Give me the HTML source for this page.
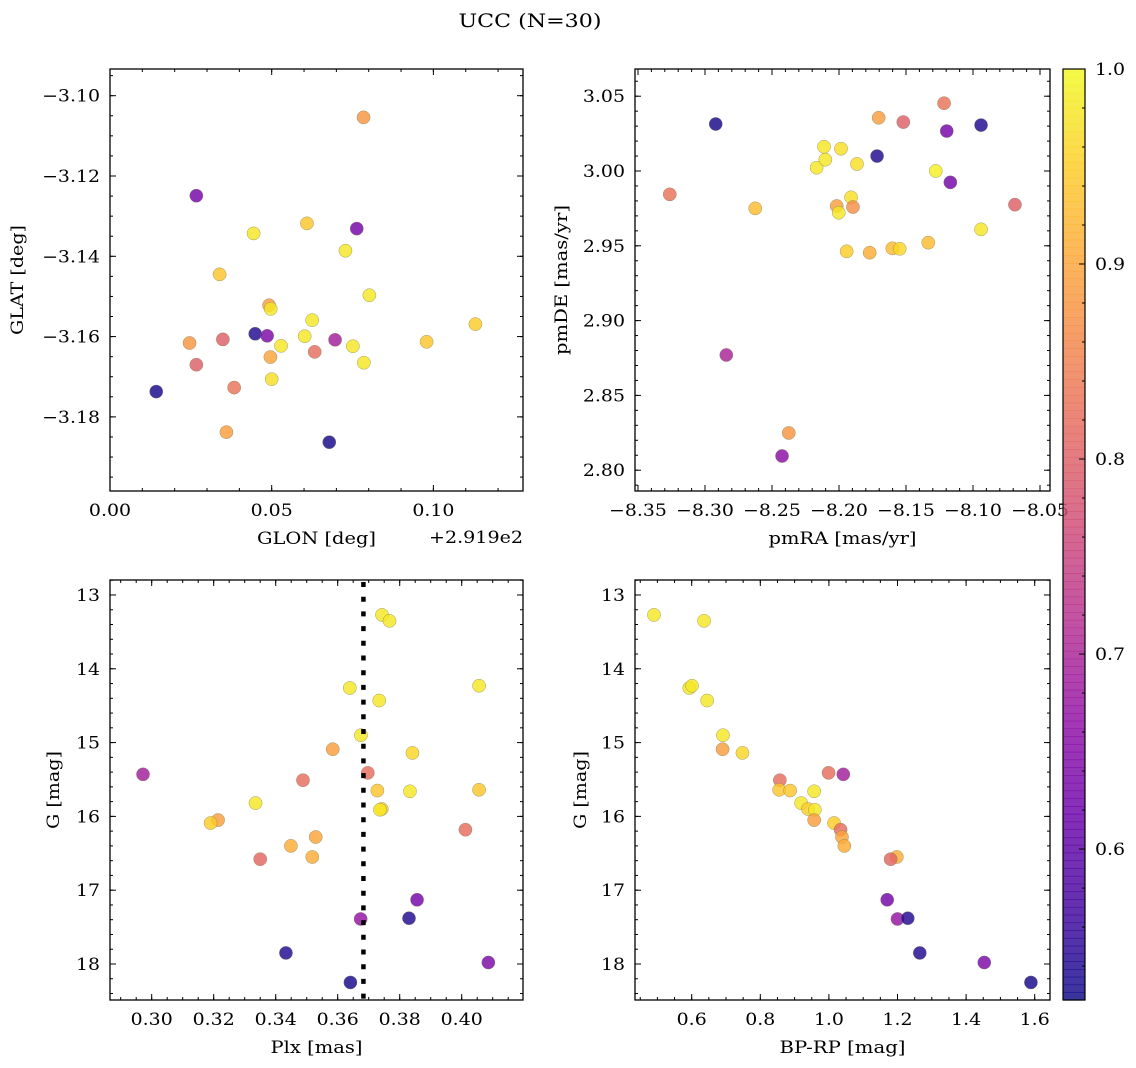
<!DOCTYPE html>
<html>
<head>
<meta charset="utf-8">
<style>
  html,body{margin:0;padding:0;background:#fff;}
  svg{display:block;font-family:"DejaVu Serif","Liberation Serif",serif;}
</style>
</head>
<body>
<svg id="fig" width="1136" height="1068" viewBox="0 0 1136 1068" xmlns="http://www.w3.org/2000/svg">
  <text x="530" y="27" text-anchor="middle" font-size="19" textLength="143" lengthAdjust="spacingAndGlyphs">UCC (N=30)</text>
</svg>
<script>
// ---- Panel 1: GLON vs GLAT ----
const glon = [0.0784,0.0267,0.0444,0.0609,0.0763,0.0728,0.0339,0.0802,0.0492,0.0497,0.0625,0.1130,0.0449,0.0486,0.0602,0.0349,0.0696,0.0246,0.0979,0.0529,0.0751,0.0633,0.0496,0.0267,0.0785,0.0500,0.0384,0.0143,0.0360,0.0678];
const glat = [-3.1054,-3.1249,-3.1343,-3.1318,-3.1331,-3.1386,-3.1445,-3.1497,-3.1522,-3.1531,-3.1559,-3.1569,-3.1593,-3.1598,-3.1599,-3.1607,-3.1608,-3.1616,-3.1613,-3.1623,-3.1624,-3.1638,-3.1651,-3.1670,-3.1665,-3.1706,-3.1727,-3.1737,-3.1838,-3.1863];
const probPos = [0.88,0.63,0.98,0.94,0.63,0.98,0.94,0.98,0.89,0.98,0.98,0.95,0.54,0.64,0.98,0.80,0.69,0.88,0.94,0.98,0.98,0.82,0.90,0.80,0.98,0.97,0.83,0.53,0.89,0.53];
// ---- Panel 2: pmRA vs pmDE ----
const pmra = [-8.292,-8.3263,-8.2841,-8.2625,-8.2375,-8.2425,-8.2167,-8.2112,-8.2102,-8.1985,-8.2017,-8.2002,-8.191,-8.1896,-8.1866,-8.1943,-8.1771,-8.1716,-8.1704,-8.1602,-8.1547,-8.152,-8.1334,-8.1278,-8.1216,-8.1196,-8.1169,-8.094,-8.094,-8.0687];
const pmde = [3.0314,2.9844,2.877,2.975,2.8249,2.8095,3.0022,3.0162,3.0076,3.0149,2.9766,2.9721,2.9824,2.9759,3.0047,2.9463,2.9454,3.010,3.0356,2.9483,2.948,3.0327,2.9521,3.000,3.0453,3.0267,2.9924,3.0307,2.961,2.9775];
const probPm = [0.53,0.83,0.70,0.93,0.88,0.66,0.98,0.98,0.98,0.97,0.89,0.98,0.97,0.87,0.97,0.95,0.91,0.54,0.89,0.93,0.96,0.80,0.93,0.99,0.83,0.63,0.63,0.54,0.98,0.80];
// ---- Panels 3 & 4: photometry / parallax ----
const gmag = [13.27,13.35,14.26,14.23,14.43,14.90,15.09,15.14,15.41,15.43,15.51,15.64,15.65,15.66,15.82,15.90,15.91,16.05,16.09,16.18,16.28,16.40,16.55,16.58,17.13,17.39,17.38,17.85,17.98,18.25];
const bprp = [0.490,0.636,0.593,0.601,0.645,0.691,0.690,0.748,0.999,1.042,0.857,0.855,0.887,0.957,0.919,0.939,0.959,0.957,1.015,1.034,1.038,1.045,1.198,1.180,1.170,1.200,1.230,1.265,1.453,1.589];
const plx = [0.3743,0.3767,0.3639,0.4056,0.3734,0.3675,0.3584,0.3841,0.3697,0.2972,0.3488,0.4056,0.3728,0.3833,0.3335,0.3742,0.3736,0.3214,0.3190,0.4012,0.3529,0.3449,0.3518,0.3350,0.3856,0.3674,0.3830,0.3433,0.4086,0.3641];
const probPh = [0.98,0.98,0.98,0.98,0.98,0.98,0.89,0.96,0.82,0.69,0.82,0.94,0.94,0.98,0.98,0.95,0.98,0.89,0.95,0.82,0.90,0.91,0.91,0.81,0.63,0.67,0.54,0.54,0.64,0.53];
const plxMedian = [0.3683];
// ---- Tick labels ----
const p1XTicks = [0, 0.05, 0.10];
const p1XLabels = ["0.00","0.05","0.10"];
const p1YTicks = [-3.18,-3.16,-3.14,-3.12,-3.10];
const p1YLabels = ["\u22123.18","\u22123.16","\u22123.14","\u22123.12","\u22123.10"];
const p2XTicks = [-8.35,-8.30,-8.25,-8.20,-8.15,-8.10,-8.05];
const p2XLabels = ["\u22128.35","\u22128.30","\u22128.25","\u22128.20","\u22128.15","\u22128.10","\u22128.05"];
const p2YTicks = [2.80,2.85,2.90,2.95,3.00,3.05];
const p2YLabels = ["2.80","2.85","2.90","2.95","3.00","3.05"];
const p3XTicks = [0.30,0.32,0.34,0.36,0.38,0.40];
const p3XLabels = ["0.30","0.32","0.34","0.36","0.38","0.40"];
const gTicks = [13,14,15,16,17,18];
const gLabels = ["13","14","15","16","17","18"];
const p4XTicks = [0.6,0.8,1.0,1.2,1.4,1.6];
const p4XLabels = ["0.6","0.8","1.0","1.2","1.4","1.6"];
const cbTicks = [0.6,0.7,0.8,0.9,1.0];
const cbLabels = ["0.6","0.7","0.8","0.9","1.0"];

const VMIN = 0.5226, VMAX = 1.0;
const FS = 17;
const WFS = 18.9;
const NS = "http://www.w3.org/2000/svg";
const fig = document.getElementById('fig');

const plasma = [[13,8,135],[65,4,157],[106,0,168],[143,13,164],[177,42,144],[204,71,120],[225,100,98],[242,132,75],[252,166,54],[252,206,37],[240,249,33]];
function cmap(v){
  let t = (v - VMIN) / (VMAX - VMIN);
  t = Math.max(0, Math.min(1, t));
  const f = t * 10, i = Math.min(9, Math.floor(f)), r = f - i;
  const a = plasma[i], b = plasma[i+1];
  return 'rgb(' + [0,1,2].map(k => Math.round(a[k] + (b[k]-a[k])*r)).join(',') + ')';
}
function numWidth(s){
  let w = 0;
  for (const ch of s){ w += (ch === '.') ? 0.318 : (ch === '\u2212') ? 0.838 : 0.636; }
  return w * WFS;
}
function el(tag, attrs, parent){
  const e = document.createElementNS(NS, tag);
  for (const k in attrs) e.setAttribute(k, attrs[k]);
  (parent || fig).appendChild(e);
  return e;
}
function linScale(d0, d1, r0, r1){ return v => r0 + (v - d0) / (d1 - d0) * (r1 - r0); }

function panel(cfg){
  const g = el('g', {});
  
  
  const sx = linScale(cfg.xd[0], cfg.xd[1], cfg.x0, cfg.x1);
  const sy = linScale(cfg.yd[0], cfg.yd[1], cfg.y1, cfg.y0);
  const pts = el('g', {}, g);
  
  
  for (let i = 0; i < cfg.xs.length; i++){
    const c = el('circle', {cx: sx(cfg.xs[i]).toFixed(2), cy: sy(cfg.ys[i]).toFixed(2), r: 6.6,
      fill: cmap(cfg.ps[i]), 'fill-opacity': 0.82, stroke: '#7a7a5a', 'stroke-width': 0.5, 'stroke-opacity': 0.7}, pts);
    
    
  }
  if (cfg.vline){
    const vx = sx(cfg.vline[0]);
    const ln = el('line', {x1: vx, x2: vx, y1: cfg.y0 + 2, y2: cfg.y1, stroke: '#000', 'stroke-width': 4.5, 'stroke-dasharray': '5 9.7'}, g);
    
    
  }
  const fr = el('rect', {x: cfg.x0, y: cfg.y0, width: cfg.x1 - cfg.x0, height: cfg.y1 - cfg.y0, fill: 'none', stroke: '#000', 'stroke-width': 1.3}, g);
  
  
  const tg = el('g', {stroke: '#000', 'stroke-width': 1}, g);
  function ticksX(vals, len){
    vals.forEach(v => { const x = sx(v); if (x < cfg.x0 - 0.5 || x > cfg.x1 + 0.5) return;
      el('line', {x1: x, x2: x, y1: cfg.y1, y2: cfg.y1 - len}, tg);
      el('line', {x1: x, x2: x, y1: cfg.y0, y2: cfg.y0 + len}, tg); });
  }
  function ticksY(vals, len){
    vals.forEach(v => { const y = sy(v); if (y < cfg.y0 - 0.5 || y > cfg.y1 + 0.5) return;
      el('line', {x1: cfg.x0, x2: cfg.x0 + len, y1: y, y2: y}, tg);
      el('line', {x1: cfg.x1, x2: cfg.x1 - len, y1: y, y2: y}, tg); });
  }
  function minors(d, step){
    const lo = Math.min(d[0], d[1]), hi = Math.max(d[0], d[1]); const out = [];
    for (let k = Math.ceil(lo / step - 1e-9); k <= Math.floor(hi / step + 1e-9); k++) out.push(k * step);
    return out;
  }
  ticksX(cfg.xt, 6); ticksY(cfg.yt, 6);
  ticksX(minors(cfg.xd, cfg.xm), 3); ticksY(minors(cfg.yd, cfg.ym), 3);
  cfg.xt.forEach((v, i) => {
    const t = el('text', {x: sx(v), y: cfg.y1 + 25, 'text-anchor': 'middle', 'font-size': FS,
      textLength: numWidth(cfg.xl[i]).toFixed(1), lengthAdjust: 'spacingAndGlyphs'}, g);
    t.textContent = cfg.xl[i];
    
    
  });
  cfg.yt.forEach((v, i) => {
    const t = el('text', {x: cfg.x0 - 10, y: sy(v) + 6, 'text-anchor': 'end', 'font-size': FS,
      textLength: numWidth(cfg.yl[i]).toFixed(1), lengthAdjust: 'spacingAndGlyphs'}, g);
    t.textContent = cfg.yl[i];
    
    
  });
  const xt = el('text', {x: (cfg.x0 + cfg.x1) / 2, y: cfg.y1 + 53, 'text-anchor': 'middle', 'font-size': FS,
    textLength: cfg.xtw, lengthAdjust: 'spacingAndGlyphs'}, g);
  xt.textContent = cfg.xtitle;
  
  
  const yx = cfg.ytitleX, yy = (cfg.y0 + cfg.y1) / 2;
  const yt = el('text', {x: yx, y: yy, 'text-anchor': 'middle', 'font-size': FS, transform: 'rotate(-90 ' + yx + ' ' + yy + ')',
    textLength: cfg.ytw, lengthAdjust: 'spacingAndGlyphs'}, g);
  yt.textContent = cfg.ytitle;
  
  
  return g;
}

panel({name: 'glon-glat-panel', x0: 110, x1: 523, y0: 69, y1: 491,
  xd: [0, 0.12771], yd: [-3.19846, -3.09335], xs: glon, ys: glat, ps: probPos,
  xt: p1XTicks, xl: p1XLabels, yt: p1YTicks, yl: p1YLabels, xm: 0.01, ym: 0.005,
  xtitle: 'GLON [deg]', xtw: 119, ytitle: 'GLAT [deg]', ytw: 110, ytitleX: 23});
const off = el('text', {x: 523, y: 543, 'text-anchor': 'end', 'font-size': FS, textLength: 94, lengthAdjust: 'spacingAndGlyphs'});
off.textContent = '+2.919e2';



panel({name: 'pm-panel', x0: 635, x1: 1050, y0: 69, y1: 491,
  xd: [-8.35224, -8.04254], yd: [2.78610, 3.06818], xs: pmra, ys: pmde, ps: probPm,
  xt: p2XTicks, xl: p2XLabels, yt: p2YTicks, yl: p2YLabels, xm: 0.01, ym: 0.01,
  xtitle: 'pmRA [mas/yr]', xtw: 148, ytitle: 'pmDE [mas/yr]', ytw: 150, ytitleX: 567});

panel({name: 'plx-g-panel', x0: 110, x1: 523, y0: 580, y1: 1000,
  xd: [0.28655, 0.41977], yd: [18.488, 12.797], xs: plx, ys: gmag, ps: probPh,
  xt: p3XTicks, xl: p3XLabels, yt: gTicks, yl: gLabels, xm: 0.005, ym: 0.2,
  xtitle: 'Plx [mas]', xtw: 92, ytitle: 'G [mag]', ytw: 78, ytitleX: 59, vline: plxMedian});

panel({name: 'cmd-panel', x0: 635, x1: 1050, y0: 580, y1: 1000,
  xd: [0.4347, 1.6446], yd: [18.488, 12.797], xs: bprp, ys: gmag, ps: probPh,
  xt: p4XTicks, xl: p4XLabels, yt: gTicks, yl: gLabels, xm: 0.05, ym: 0.2,
  xtitle: 'BP-RP [mag]', xtw: 126, ytitle: 'G [mag]', ytw: 78, ytitleX: 586});

// ---- Colorbar ----
const cb = el('g', {});


const cbx0 = 1063, cbx1 = 1085, cby0 = 69, cby1 = 1000;
const cbs = linScale(VMIN, VMAX, cby1, cby0);
const nSeg = 120;
for (let i = 0; i < nSeg; i++){
  const v0 = VMIN + (VMAX - VMIN) * i / nSeg, v1 = VMIN + (VMAX - VMIN) * (i + 1) / nSeg;
  const r = el('rect', {x: cbx0, y: cbs(v1), width: cbx1 - cbx0, height: cbs(v0) - cbs(v1) + 0.6, fill: cmap((v0 + v1) / 2), 'fill-opacity': 0.82}, cb);
  
  
}
el('rect', {x: cbx0, y: cby0, width: cbx1 - cbx0, height: cby1 - cby0, fill: 'none', stroke: '#000', 'stroke-width': 1.2}, cb);
for (let k = 27; k <= 50; k++){
  const v = k * 0.02; if (v < VMIN) continue;
  const y = cbs(v);
  const isMajor = (k % 5 === 0);
  el('line', {x1: cbx1, x2: cbx1 - (isMajor ? 6 : 3), y1: y, y2: y, stroke: '#000', 'stroke-width': 1}, cb);
}
cbTicks.forEach((v, i) => {
  const t = el('text', {x: cbx1 + 10, y: cbs(v) + 6, 'font-size': FS, textLength: numWidth(cbLabels[i]).toFixed(1), lengthAdjust: 'spacingAndGlyphs'}, cb);
  t.textContent = cbLabels[i];
  
  
});
</script>
</body>
</html>
